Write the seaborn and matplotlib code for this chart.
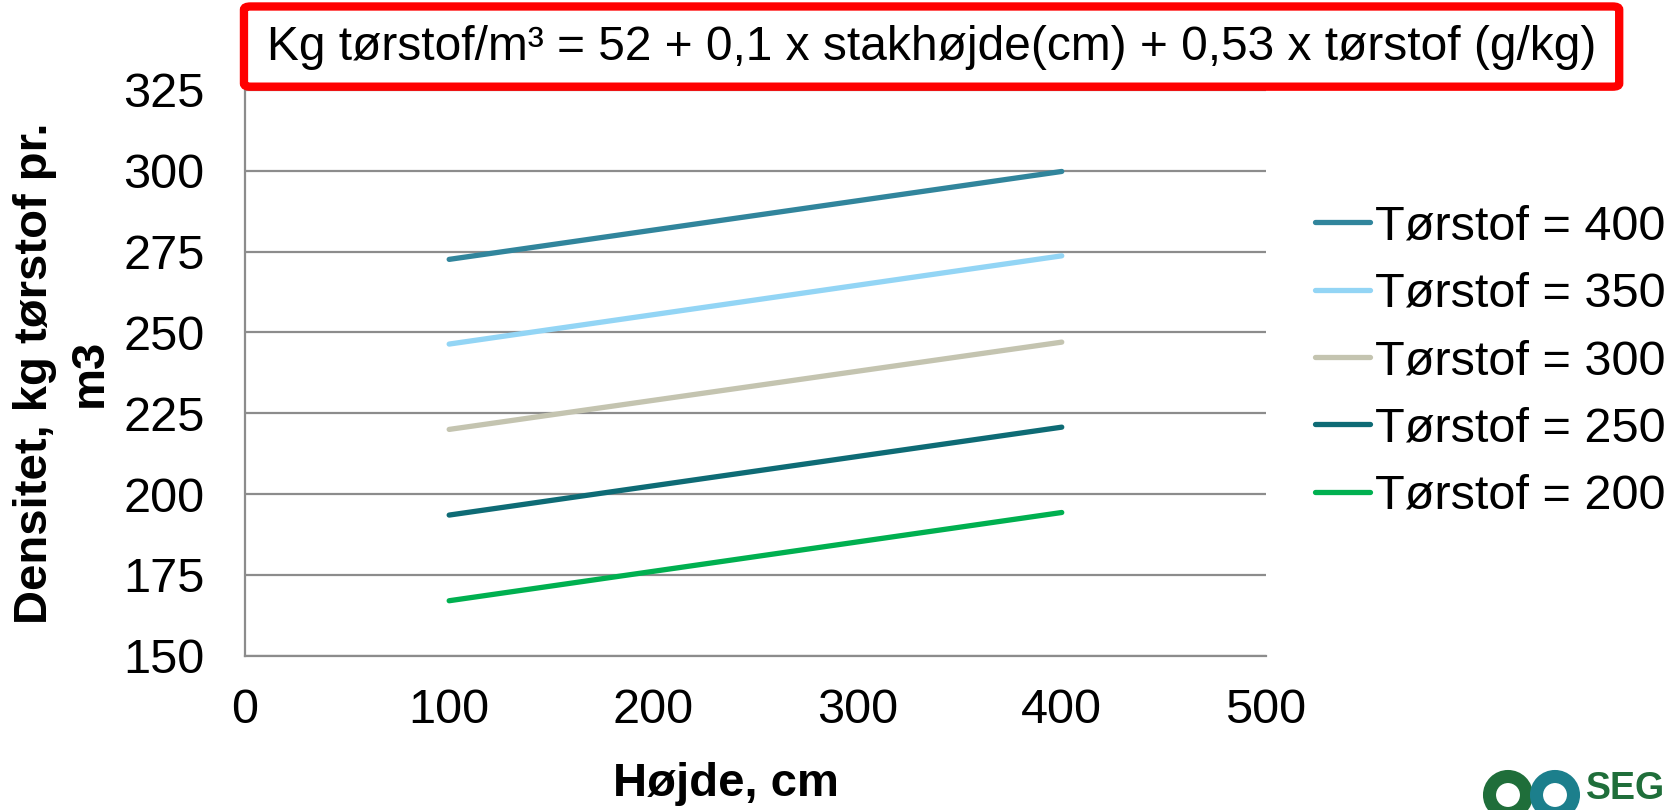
import matplotlib
matplotlib.use("Agg")
import matplotlib.pyplot as plt
from matplotlib.patches import FancyBboxPatch, Circle
from matplotlib.transforms import IdentityTransform
import seaborn as sns
import pandas as pd

# Stack height (cm) and density (kg dry matter per m3) for each dry-matter level
heights = [100, 400]
series_labels = ["Tørstof = 400", "Tørstof = 350", "Tørstof = 300",
                 "Tørstof = 250", "Tørstof = 200"]
density_400 = [272.6, 299.8]
density_350 = [246.4, 273.7]
density_300 = [220.0, 247.0]
density_250 = [193.5, 220.7]
density_200 = [167.0, 194.3]
series_colors = ["#31859C", "#93D5F5", "#C4C4B0", "#0E6B75", "#00B050"]

x_ticks = [0, 100, 200, 300, 400, 500]
y_ticks = [150, 175, 200, 225, 250, 275, 300, 325]

values = [density_400, density_350, density_300, density_250, density_200]
rows = []
for label, vals in zip(series_labels, values):
    for h, v in zip(heights, vals):
        rows.append({"Højde": h, "Densitet": v, "Serie": label})
df = pd.DataFrame(rows)

sns.set_style("white")
plt.rcParams["font.family"] = ["Liberation Sans", "DejaVu Sans"]
plt.rcParams["text.color"] = "black"
plt.rcParams["axes.labelcolor"] = "black"

fig = plt.figure(figsize=(16.71, 8.10), dpi=100)
ax = fig.add_axes([0.1466, 0.1905, 0.6110, 0.6984])

sns.lineplot(data=df, x="Højde", y="Densitet", hue="Serie",
             hue_order=series_labels, palette=series_colors,
             linewidth=3.8, ax=ax, legend=True)
for ln in ax.get_lines():
    ln.set_solid_capstyle("round")

ax.set_xlim(0, 500)
ax.set_ylim(150, 325)
ax.set_xticks(x_ticks)
ax.set_yticks(y_ticks)
ax.yaxis.grid(True, color="#8C8C8C", linewidth=1.6)
ax.xaxis.grid(False)
ax.set_axisbelow(True)

for side in ["top", "right"]:
    ax.spines[side].set_visible(False)
for side in ["left", "bottom"]:
    ax.spines[side].set_color("#8C8C8C")
    ax.spines[side].set_linewidth(1.6)

ax.tick_params(axis="both", which="major", labelsize=35, colors="#8C8C8C",
               labelcolor="black", length=11, width=1.4, direction="out")
ax.tick_params(axis="x", pad=12)
ax.tick_params(axis="y", pad=18)

ax.set_xlabel("Højde, cm", fontsize=34, fontweight="bold")
ax.xaxis.set_label_coords(0.471, -0.188)
ax.set_ylabel("Densitet, kg tørstof pr.\nm3", fontsize=34, fontweight="bold",
              labelpad=8.6, linespacing=1.3)

handles, labels = ax.get_legend_handles_labels()
leg = ax.legend(handles, labels, loc="center left", bbox_to_anchor=(1.029, 0.520),
                frameon=False, fontsize=35, handlelength=1.13, handletextpad=0.1,
                labelspacing=0.46, borderaxespad=0)
for h in leg.get_lines():
    h.set_linewidth(3.8)

# Formula box above the plot
box = FancyBboxPatch((0.1460, 0.893), 0.8230, 0.099, boxstyle="round,pad=0,rounding_size=0.004",
                     transform=fig.transFigure, facecolor="white", edgecolor="#FF0000",
                     linewidth=6, zorder=5)
fig.patches.append(box)
fig.text(0.5575, 0.941, "Kg tørstof/m³ = 52 + 0,1 x stakhøjde(cm) + 0,53 x tørstof (g/kg)",
         ha="center", va="center", fontsize=34.5, color="black", zorder=6)

# Corner logo: two rings and the wordmark
for cx, col in [(1508, "#1F6E3A"), (1555, "#1C7F8C")]:
    fig.patches.append(Circle((cx, 15), 18.5, transform=IdentityTransform(),
                              facecolor="none", edgecolor=col, linewidth=9.4, zorder=4))
fig.text(1586 / 1671, 0.004, "SEG", ha="left", va="bottom", fontsize=27, fontweight="bold",
         color="#1F6E3A")

fig.savefig("out.png", dpi=100)
